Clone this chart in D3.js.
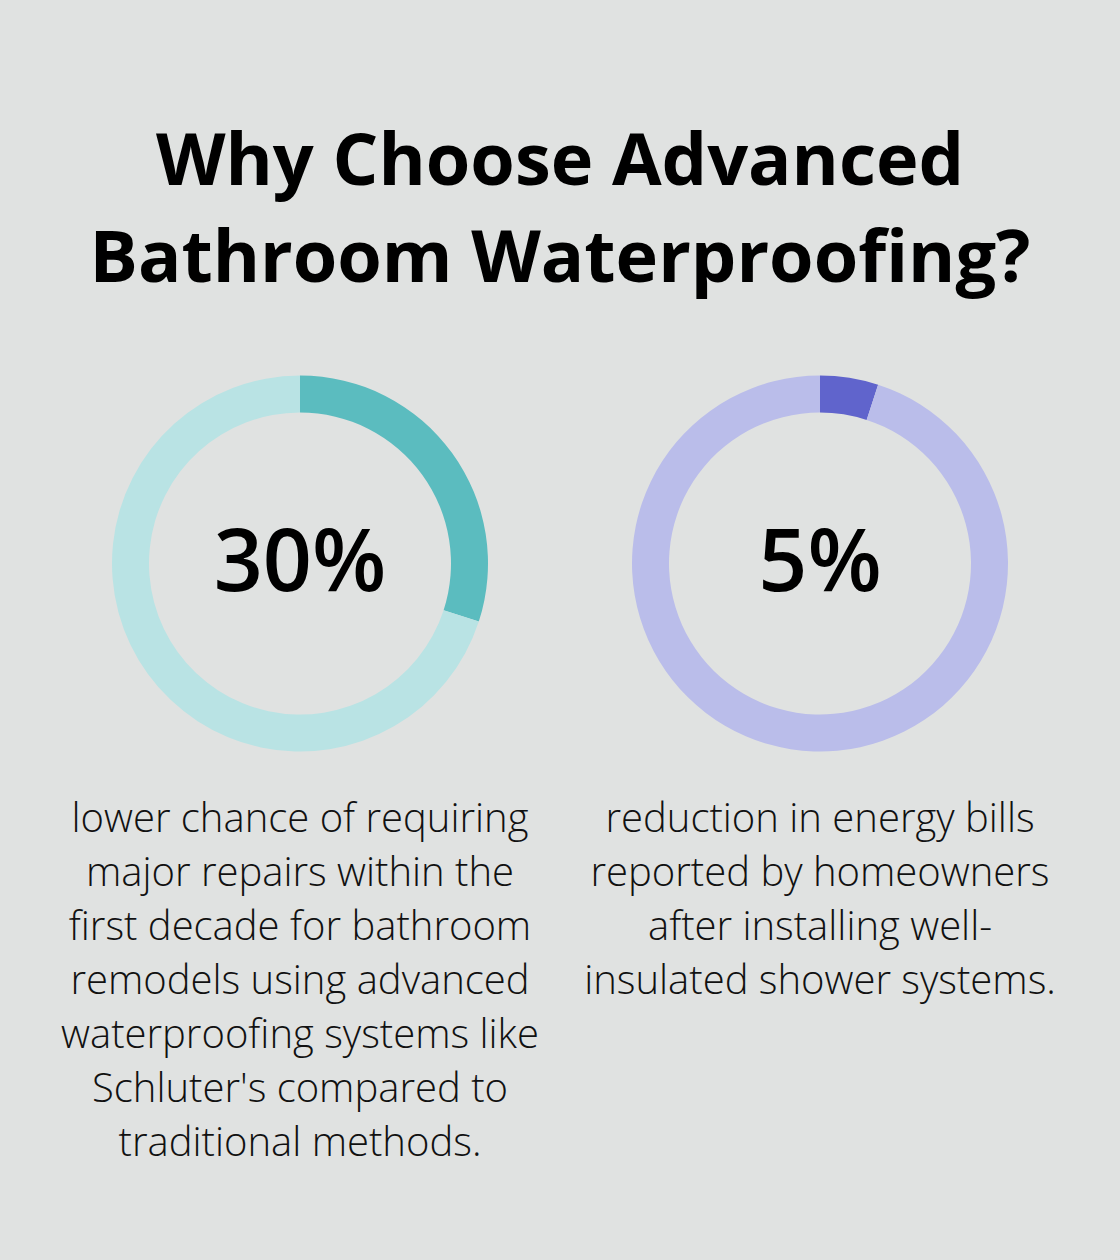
<!DOCTYPE html>
<html>
<head>
<meta charset="utf-8">
<script src="https://cdn.jsdelivr.net/npm/d3@7"></script>
<style>
  html, body { margin: 0; padding: 0; background: #e0e2e1; }
  svg { display: block; }
</style>
</head>
<body>
<svg id="chart" width="1120" height="1260"></svg>
<script>
const titleLines = ["Why Choose Advanced", "Bathroom Waterproofing?"];
const categories = ["Major repair reduction", "Energy bill reduction"];
const values = [30, 5];
const valueLabels = ["30%", "5%"];
const descriptions = [
  ["lower chance of requiring", "major repairs within the", "first decade for bathroom", "remodels using advanced", "waterproofing systems like", "Schluter's compared to", "traditional methods."],
  ["reduction in energy bills", "reported by homeowners", "after installing well-", "insulated shower systems."]
];
const mainColors = ["#5bbcbf", "#6064cc"];
const restColors = ["#b9e3e4", "#babdea"];

const W = 1120, H = 1260;
const svg = d3.select("#chart");
svg.append("rect").attr("width", W).attr("height", H).attr("fill", "#e0e2e1");

const font = "'Open Sans', 'Noto Sans', sans-serif";

// Title
svg.append("g").selectAll("text").data(titleLines).join("text")
  .attr("x", W / 2)
  .attr("y", (d, i) => 185 + i * 97)
  .attr("text-anchor", "middle")
  .attr("font-family", font)
  .attr("font-weight", 700)
  .attr("font-size", 72)
  .attr("fill", "#000")
  .text(d => d);

const x = d3.scalePoint().domain(categories).range([300, 820]);
const cy = 563.5;
const outerR = 188, innerR = 151;
const pie = d3.pie().sort(null).value(d => d);
const arc = d3.arc().innerRadius(innerR).outerRadius(outerR);

categories.forEach((c, i) => {
  const g = svg.append("g").attr("transform", `translate(${x(c)},${cy})`);
  const arcs = pie([values[i], 100 - values[i]]);
  g.selectAll("path").data(arcs).join("path")
    .attr("d", arc)
    .attr("fill", (d, j) => j === 0 ? mainColors[i] : restColors[i]);
  g.append("text")
    .attr("x", 0).attr("y", 27)
    .attr("text-anchor", "middle")
    .attr("font-family", font)
    .attr("font-weight", 600)
    .attr("font-size", 86)
    .attr("fill", "#000")
    .text(valueLabels[i]);
  svg.append("g").selectAll("text").data(descriptions[i]).join("text")
    .attr("x", x(c))
    .attr("y", (d, k) => 832 + k * 54)
    .attr("text-anchor", "middle")
    .attr("font-family", font)
    .attr("font-weight", 300)
    .attr("font-size", 40)
    .attr("fill", "#111")
    .text(d => d);
});
</script>
</body>
</html>
